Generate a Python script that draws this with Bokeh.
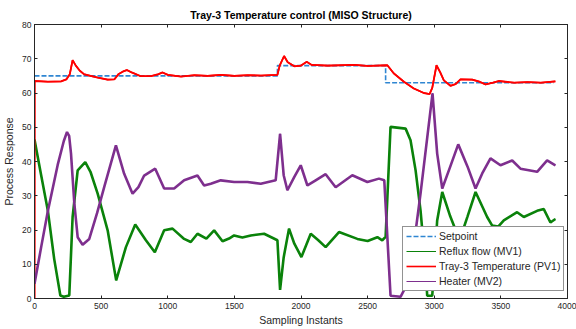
from bokeh.plotting import figure
from bokeh.models import Range1d, LinearAxis, FixedTicker, Legend, LegendItem
from bokeh.embed import file_html
from bokeh.resources import INLINE

# ---------------- data ----------------
x_ticks = [0, 500, 1000, 1500, 2000, 2500, 3000, 3500, 4000]
y_ticks = [0, 10, 20, 30, 40, 50, 60, 70, 80]

sp_t = [0, 1823, 1823, 2635, 2635, 3895]
sp_v = [65, 65, 68, 68, 63, 63]

pv_t = [0, 1, 100, 200, 240, 265, 286, 310, 340, 371, 420, 474, 549, 600, 630,
        665, 693, 730, 798, 873, 930, 961, 1000, 1100, 1200, 1300, 1400, 1500,
        1600, 1700, 1823, 1840, 1873, 1900, 1950, 2000, 2043, 2080, 2200, 2400,
        2500, 2648, 2697, 2772, 2847, 2922, 2965, 2985, 3017, 3045, 3072, 3122,
        3160, 3197, 3285, 3340, 3385, 3440, 3484, 3600, 3700, 3800, 3909]
pv_v = [0, 63.5, 63.3, 63.4, 64.0, 65.5, 69.6, 68.0, 66.5, 65.5, 65.0, 64.5,
        63.9, 64.0, 65.5, 66.3, 66.7, 66.0, 64.9, 64.9, 65.5, 66.0, 65.3, 64.8,
        65.2, 65.0, 65.3, 65.0, 65.2, 65.1, 65.3, 68.0, 70.8, 69.0, 67.8, 68.0,
        69.1, 68.2, 68.0, 68.2, 67.9, 68.1, 65.7, 63.3, 61.3, 60.0, 59.7, 61.5,
        68.1, 66.0, 63.7, 62.1, 62.6, 64.0, 63.9, 63.3, 62.5, 63.0, 63.5, 63.0,
        63.2, 63.0, 63.4]

mv1_t = [0, 50, 100, 148, 194, 220, 261, 286, 324, 381, 420, 474, 549, 613, 686,
         756, 836, 903, 973, 1036, 1123, 1173, 1223, 1290, 1348, 1411, 1460,
         1498, 1560, 1623, 1723, 1823, 1843, 1870, 1910, 1950, 2003, 2073, 2130,
         2185, 2285, 2423, 2500, 2573, 2610, 2635, 2672, 2785, 2822, 2860, 2897,
         2935, 2947, 2985, 3022, 3060, 3120, 3190, 3250, 3310, 3397, 3435, 3480,
         3522, 3622, 3672, 3772, 3822, 3872, 3909]
mv1_v = [46.4, 36.0, 25.7, 11.5, 0.9, 0.5, 0.9, 23.8, 37.4, 39.8, 37.0, 30.6,
         19.9, 5.3, 15.0, 21.6, 17.0, 13.5, 19.9, 20.4, 17.4, 16.5, 18.9, 17.5,
         19.9, 16.7, 17.5, 18.4, 17.8, 18.4, 18.9, 17.0, 2.5, 12.0, 20.4, 16.0,
         12.1, 18.9, 17.0, 15.0, 19.4, 17.4, 16.8, 17.9, 17.0, 18.0, 50.1, 49.6,
         46.2, 37.4, 25.7, 9.2, 0.8, 0.8, 22.8, 31.1, 24.0, 17.0, 24.0, 31.1,
         23.8, 21.3, 21.0, 22.8, 25.2, 23.8, 25.6, 26.1, 22.2, 23.2]

mv2_t = [0, 50, 100, 174, 220, 244, 260, 274, 299, 324, 361, 411, 470, 523, 611,
         673, 736, 780, 823, 906, 973, 1048, 1123, 1223, 1273, 1323, 1398, 1498,
         1598, 1698, 1810, 1843, 1870, 1898, 1950, 1998, 2048, 2110, 2185, 2260,
         2385, 2498, 2585, 2625, 2672, 2747, 2798, 2848, 2897, 2948, 2987, 3022,
         3060, 3120, 3180, 3250, 3310, 3360, 3422, 3497, 3585, 3647, 3772, 3847,
         3909]
mv2_v = [4.3, 15.0, 25.5, 39.0, 46.0, 48.6, 47.5, 42.3, 27.7, 17.9, 15.7, 17.4,
         25.0, 32.5, 44.7, 36.4, 30.6, 32.5, 35.9, 37.9, 32.1, 32.1, 34.5, 35.9,
         33.0, 33.5, 34.5, 34.0, 34.0, 33.5, 34.5, 48.1, 36.0, 31.6, 35.5, 38.9,
         33.0, 34.5, 36.3, 32.5, 36.0, 34.0, 35.0, 34.5, 0.8, 0.5, 4.3, 16.0,
         30.6, 47.2, 59.9, 42.3, 32.1, 38.5, 45.0, 38.5, 32.1, 36.5, 40.9, 38.9,
         40.3, 37.9, 37.0, 40.3, 38.9]

labels = ["Setpoint", "Reflux flow (MV1)", "Tray-3 Temperature (PV1)", "Heater (MV2)"]

C_SP = "#2f86d2"
C_MV1 = "#0a820a"
C_PV = "#ff0000"
C_MV2 = "#7e2f8e"
AX = "#262626"
FONT = "Liberation Sans"

p = figure(width=576, height=329, x_range=Range1d(0, 4000), y_range=Range1d(0, 80),
           output_backend="svg", toolbar_location=None,
           title="Tray-3 Temperature control (MISO Structure)",
           min_border_left=33, min_border_right=9, min_border_top=24,
           min_border_bottom=31)

p.title.align = "center"
p.title.text_font = FONT
p.title.text_font_size = "10.5px"
p.title.text_font_style = "bold"
p.title.text_color = "#000000"
p.title.standoff = 7

p.outline_line_color = AX
p.outline_line_alpha = 1.0
p.xgrid.visible = False
p.ygrid.visible = False
p.background_fill_color = "white"
p.border_fill_color = "white"

for ax, ticks in ((p.xaxis[0], x_ticks), (p.yaxis[0], y_ticks)):
    ax.ticker = FixedTicker(ticks=ticks)
    ax.major_tick_in = 3
    ax.major_tick_out = 0
    ax.minor_tick_line_color = None
    ax.axis_line_color = AX
    ax.major_tick_line_color = AX
    ax.major_label_text_font = FONT
    ax.major_label_text_font_size = "8.5px"
    ax.major_label_text_color = AX
    ax.axis_label_text_font = FONT
    ax.axis_label_text_font_size = "10.5px"
    ax.axis_label_text_font_style = "normal"
    ax.axis_label_text_color = AX

p.xaxis[0].major_label_standoff = 4
p.xaxis[0].axis_label_standoff = 2
p.yaxis[0].major_label_standoff = 3
p.yaxis[0].axis_label_standoff = 4
p.xaxis[0].axis_label = "Sampling Instants"
p.yaxis[0].axis_label = "Process Response"

top = LinearAxis(ticker=FixedTicker(ticks=x_ticks), major_tick_in=3, major_tick_out=0,
                 minor_tick_line_color=None, major_label_text_font_size="0px",
                 major_label_text_color=None, major_label_standoff=0,
                 axis_line_color=AX, major_tick_line_color=AX)
right = LinearAxis(ticker=FixedTicker(ticks=y_ticks), major_tick_in=3, major_tick_out=0,
                   minor_tick_line_color=None, major_label_text_font_size="0px",
                   major_label_text_color=None, major_label_standoff=0,
                   axis_line_color=AX, major_tick_line_color=AX)
p.add_layout(top, "above")
p.add_layout(right, "right")

# thin copies (used for the legend samples), drawn beneath the thick traces
l_sp = p.line(sp_t, sp_v, line_color=C_SP, line_width=1.6, line_dash="5 2")
l_mv1 = p.line(mv1_t, mv1_v, line_color=C_MV1, line_width=1)
l_pv = p.line(pv_t, pv_v, line_color=C_PV, line_width=1.6)
l_mv2 = p.line(mv2_t, mv2_v, line_color=C_MV2, line_width=1)

p.line(mv1_t, mv1_v, line_color=C_MV1, line_width=2.6)
p.line(pv_t, pv_v, line_color=C_PV, line_width=1.8)
p.line(mv2_t, mv2_v, line_color=C_MV2, line_width=2.6)

legend = Legend(items=[LegendItem(label=labels[0], renderers=[l_sp]),
                       LegendItem(label=labels[1], renderers=[l_mv1]),
                       LegendItem(label=labels[2], renderers=[l_pv]),
                       LegendItem(label=labels[3], renderers=[l_mv2])],
                location=(368, 7))
legend.border_line_color = AX
legend.border_line_width = 1
legend.background_fill_color = "white"
legend.background_fill_alpha = 1.0
legend.label_text_font = FONT
legend.label_text_font_size = "10.5px"
legend.label_text_color = AX
legend.label_standoff = 3
legend.glyph_width = 30
legend.glyph_height = 12
legend.label_height = 12
legend.spacing = 3
legend.padding = 3
legend.margin = 0
p.add_layout(legend)

open("out.html", "w").write(file_html(p, INLINE))
